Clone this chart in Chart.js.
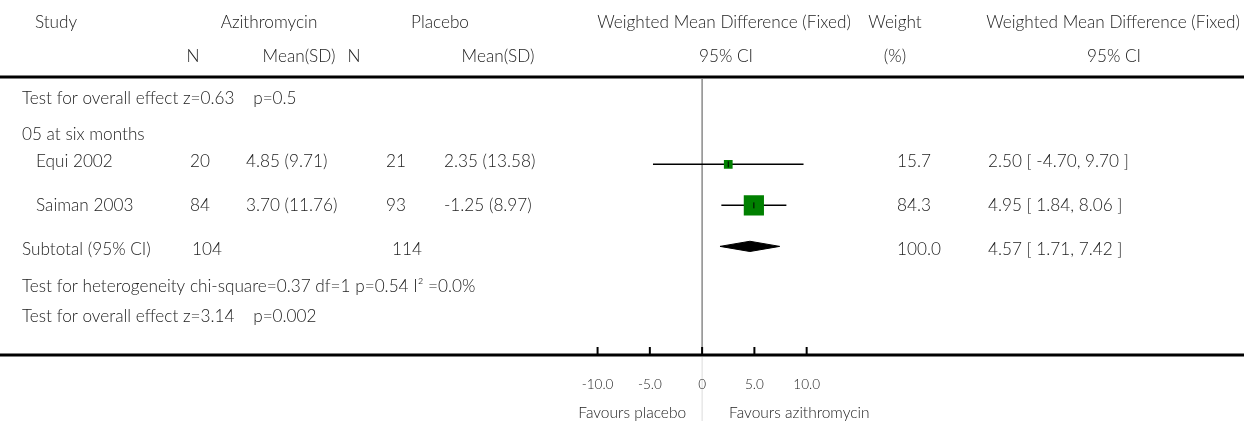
<!DOCTYPE html>
<html>
<head>
<meta charset="utf-8">
<script src="https://cdn.jsdelivr.net/npm/chart.js@4/dist/chart.umd.min.js"></script>
<style>
  body { margin: 0; background: #fff; }
  #wrap { width: 1244px; height: 421px; position: relative; }
</style>
</head>
<body>
<div id="wrap"><canvas id="forest"></canvas></div>
<script>
// dati dello studio
const studies = ['Equi 2002', 'Saiman 2003'];
const nAzi = [20, 84];
const meanAzi = ['4.85 (9.71)', '3.70 (11.76)'];
const nPla = [21, 93];
const meanPla = ['2.35 (13.58)', '-1.25 (8.97)'];
const wmd = [2.50, 4.95];
const ciLow = [-4.70, 1.84];
const ciHigh = [9.70, 8.06];
const weights = [15.7, 84.3];

const subtotalN = [104, 114];
const subtotal = { est: 4.57, lo: 1.71, hi: 7.42, weight: '100.0' };

const tickValues = [-10, -5, 0, 5, 10];
const tickLabels = ['-10.0', '-5.0', '0', '5.0', '10.0'];

// layout (pixel)
const rowY = { head1: 22, head2: 56, topRule: 77, test0: 98, group: 134, studies: [161, 205], subtotal: 249, het: 286, overall: 316, axis: 355, tickLab: 385, favours: 413 };
const FONT = '300 17.2px Lato, "Open Sans", sans-serif';
const TXT = '#222';
const fmt = v => v.toFixed(2);
const ciText = (e, l, h) => fmt(e) + ' [ ' + fmt(l) + ', ' + fmt(h) + ' ]';

// dataset: linee degli IC, quadrati, rombo
const ciSets = studies.map((s, i) => ({
  data: [{ x: ciLow[i], y: rowY.studies[i] }, { x: ciHigh[i], y: rowY.studies[i] }],
  showLine: true, borderColor: '#000', borderWidth: 1.5, pointRadius: 0, order: 2
}));

const squares = {
  data: wmd.map((v, i) => ({ x: v, y: rowY.studies[i] })),
  pointStyle: 'rect',
  pointRadius: weights.map(w => 2.2 * Math.sqrt(w) / Math.SQRT2),
  backgroundColor: '#008000', borderWidth: 0, order: 1
};

const centres = {
  data: wmd.map((v, i) => ({ x: v, y: rowY.studies[i] })),
  pointStyle: 'line', rotation: 90, pointRadius: 3,
  borderColor: '#000', borderWidth: 1, order: 0
};

const dh = 5.5; // mezza altezza rombo
const diamond = {
  data: [
    { x: subtotal.lo, y: rowY.subtotal },
    { x: subtotal.est, y: rowY.subtotal - dh },
    { x: subtotal.hi, y: rowY.subtotal },
    { x: subtotal.est, y: rowY.subtotal + dh },
    { x: subtotal.lo, y: rowY.subtotal }
  ],
  showLine: true, fill: 'shape', backgroundColor: '#000', borderColor: '#000',
  borderWidth: 1, pointRadius: 0, tension: 0, order: 1
};

// plugin per testi, righe e asse
const forestText = {
  id: 'forestText',
  beforeDatasetsDraw(chart) {
    const { ctx, scales: { x } } = chart;
    const x0 = x.getPixelForValue(0);
    ctx.save();
    // riga zero
    ctx.strokeStyle = '#8a8a8a'; ctx.lineWidth = 1.5;
    ctx.beginPath(); ctx.moveTo(x0, rowY.topRule + 2); ctx.lineTo(x0, rowY.axis); ctx.stroke();
    ctx.strokeStyle = '#dcdcdc'; ctx.lineWidth = 1;
    ctx.beginPath(); ctx.moveTo(x0, rowY.axis + 2); ctx.lineTo(x0, 421); ctx.stroke();
    ctx.restore();
  },
  afterDatasetsDraw(chart) {
    const { ctx, scales: { x } } = chart;
    const W = chart.width;
    ctx.save();
    // righe orizzontali
    ctx.strokeStyle = '#000'; ctx.lineWidth = 3;
    [rowY.topRule, rowY.axis].forEach(y => {
      ctx.beginPath(); ctx.moveTo(0, y); ctx.lineTo(W, y); ctx.stroke();
    });
    // tacche asse
    ctx.lineWidth = 2;
    tickValues.forEach(v => {
      const px = x.getPixelForValue(v);
      ctx.beginPath(); ctx.moveTo(px, rowY.axis - 8); ctx.lineTo(px, rowY.axis); ctx.stroke();
    });

    ctx.font = FONT; ctx.fillStyle = TXT; ctx.textBaseline = 'middle';
    const t = (s, px, py, al) => { ctx.textAlign = al || 'left'; ctx.fillText(s, px, py); };

    // intestazione
    t('Study', 56, rowY.head1, 'center');
    t('Azithromycin', 269, rowY.head1, 'center');
    t('Placebo', 440, rowY.head1, 'center');
    t('Weighted Mean Difference (Fixed)', 724, rowY.head1, 'center');
    t('Weight', 895, rowY.head1, 'center');
    t('Weighted Mean Difference (Fixed)', 1113, rowY.head1, 'center');
    t('N', 193, rowY.head2, 'center');
    t('Mean(SD)', 299, rowY.head2, 'center');
    t('N', 354, rowY.head2, 'center');
    t('Mean(SD)', 498, rowY.head2, 'center');
    t('95% CI', 726, rowY.head2, 'center');
    t('(%)', 895, rowY.head2, 'center');
    t('95% CI', 1114, rowY.head2, 'center');

    t('Test for overall effect z=0.63    p=0.5', 22, rowY.test0);
    t('05 at six months', 22, rowY.group);

    studies.forEach((s, i) => {
      const y = rowY.studies[i];
      t(s, 36, y);
      t(String(nAzi[i]), 190, y);
      t(meanAzi[i], 246, y);
      t(String(nPla[i]), 386, y);
      t(meanPla[i], 444, y);
      t(weights[i].toFixed(1), 897, y);
      t(ciText(wmd[i], ciLow[i], ciHigh[i]), 988, y);
    });

    t('Subtotal (95% CI)', 22, rowY.subtotal);
    t(String(subtotalN[0]), 192, rowY.subtotal);
    t(String(subtotalN[1]), 392, rowY.subtotal);
    t(subtotal.weight, 897, rowY.subtotal);
    t(ciText(subtotal.est, subtotal.lo, subtotal.hi), 988, rowY.subtotal);

    t('Test for heterogeneity chi-square=0.37 df=1 p=0.54 I\u00B2 =0.0%', 22, rowY.het);
    t('Test for overall effect z=3.14    p=0.002', 22, rowY.overall);

    // etichette asse
    ctx.font = '300 13.5px Lato, "Open Sans", sans-serif';
    tickValues.forEach((v, i) => t(tickLabels[i], x.getPixelForValue(v), rowY.tickLab, 'center'));
    const x0 = x.getPixelForValue(0);
    ctx.font = '300 15.5px Lato, "Open Sans", sans-serif';
    t('Favours placebo', x0 - 16, rowY.favours, 'right');
    t('Favours azithromycin', x0 + 27, rowY.favours, 'left');
    ctx.restore();
  }
};

new Chart(document.getElementById('forest'), {
  type: 'scatter',
  data: { datasets: [...ciSets, squares, centres, diamond] },
  options: {
    responsive: true,
    maintainAspectRatio: false,
    animation: false,
    layout: { padding: 0 },
    plugins: { legend: { display: false }, tooltip: { enabled: false } },
    scales: {
      x: { type: 'linear', display: false, min: -704 / 10.7, max: 540 / 10.7 },
      y: { type: 'linear', display: false, min: 0, max: 421, reverse: true }
    }
  },
  plugins: [forestText]
});
</script>
</body>
</html>
